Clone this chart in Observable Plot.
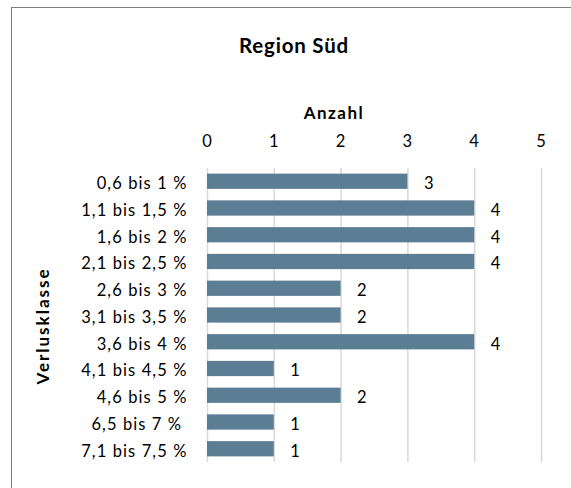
<!DOCTYPE html>
<html><head><meta charset="utf-8">
<script src="https://cdn.jsdelivr.net/npm/d3@7"></script>
<script src="https://cdn.jsdelivr.net/npm/@observablehq/plot@0.6"></script>
<style>
body{margin:0;background:#fff;}
#wrap{position:relative;width:571px;height:488px;overflow:hidden;font-family:Lato,sans-serif;color:#000;}
#frame{position:absolute;left:11px;top:7px;width:700px;height:700px;border:1.5px solid #7f7f7f;box-sizing:border-box}
#chart{position:absolute;left:0;top:0}
.lbl{position:absolute;font-weight:bold;white-space:nowrap;line-height:1}
#title{left:294px;top:45px;transform:translate(-50%,-50%);font-size:20.5px;letter-spacing:0.8px}
#xlabel{left:334px;top:112px;transform:translate(-50%,-50%);font-size:17px;letter-spacing:1.5px}
#ylabel{left:42px;top:326px;transform:translate(-50%,-50%) rotate(-90deg);font-size:17px;letter-spacing:2px}
</style></head>
<body>
<div id="wrap">
  <div id="frame"></div>
  <div id="chart"></div>
  <div class="lbl" id="title">Region Süd</div>
  <div class="lbl" id="xlabel">Anzahl</div>
  <div class="lbl" id="ylabel">Verlusklasse</div>
</div>
<script>
const classes = ["0,6 bis 1 %", "1,1 bis 1,5 %", "1,6 bis 2 %", "2,1 bis 2,5 %", "2,6 bis 3 %", "3,1 bis 3,5 %", "3,6 bis 4 %", "4,1 bis 4,5 %", "4,6 bis 5 %", "6,5 bis 7 %\u00a0", "7,1 bis 7,5 %"];
const counts = [3, 4, 4, 4, 2, 2, 4, 1, 2, 1, 1];
const xTicks = [0, 1, 2, 3, 4, 5];

const data = classes.map((c, i) => ({cls: c, n: counts[i]}));

const chart = Plot.plot({
  width: 571, height: 488,
  marginLeft: 207, marginRight: 30, marginTop: 168, marginBottom: 26,
  style: {fontFamily: "Lato, sans-serif", fontSize: "16.5px", color: "#000", background: "transparent", letterSpacing: "1.1px"},
  x: {domain: [0, 5]},
  y: {domain: classes, paddingInner: 0.43, paddingOuter: 0.21, round: false},
  marks: [
    Plot.gridX(xTicks, {stroke: "#d9d9d9", strokeOpacity: 1, strokeWidth: 1.5}),
    Plot.axisX(xTicks, {anchor: "top", tickSize: 0, tickPadding: 22, label: null, tickFormat: d => String(d)}),
    Plot.axisY({tickSize: 0, tickPadding: 20, label: null, dy: 2}),
    Plot.barX(data, {x: "n", y: "cls", fill: "#5b7e95"}),
    Plot.text(data, {x: "n", y: "cls", text: d => String(d.n), textAnchor: "start", dx: 16, dy: 2, fill: "#000"})
  ]
});
document.getElementById("chart").appendChild(chart);
</script>
</body></html>
